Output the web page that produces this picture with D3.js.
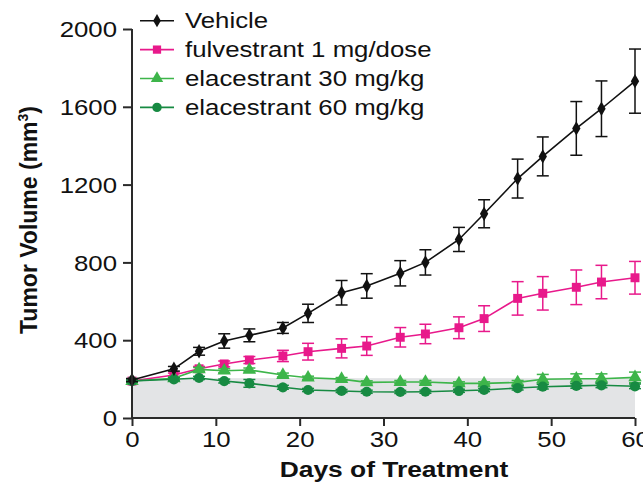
<!DOCTYPE html>
<html>
<head>
<meta charset="utf-8">
<script src="https://cdn.jsdelivr.net/npm/d3@7"></script>
<style>
  body { margin: 0; background: #fff; }
  svg { display: block; }
  text { font-family: "Liberation Sans", Arial, sans-serif; fill: #111; }
</style>
</head>
<body>
<svg id="chart" width="643" height="483"></svg>
<script>
// data
const days = [0, 5, 8, 11, 14, 18, 21, 25, 28, 32, 35, 39, 42, 46, 49, 53, 56, 60];

const vehicle    = [195, 253, 343, 396, 425, 463, 538, 644, 679, 744, 800, 918, 1050, 1231, 1345, 1489, 1590, 1732];
const vehicleErr = [8, 12, 20, 37, 33, 28, 47, 63, 63, 65, 65, 62, 72, 100, 100, 138, 143, 165];

const fulv    = [190, 221, 253, 278, 298, 319, 341, 358, 370, 415, 432, 464, 511, 615, 641, 672, 699, 721];
const fulvErr = [5, 10, 12, 15, 18, 29, 43, 49, 48, 50, 50, 56, 66, 86, 86, 89, 86, 84];

const elac30    = [190, 204, 250, 243, 247, 221, 207, 200, 183, 185, 185, 178, 178, 183, 199, 202, 202, 209];
const elac30Err = [5, 8, 10, 10, 10, 10, 8, 8, 8, 8, 8, 8, 8, 10, 25, 25, 25, 27];

const elac60    = [190, 199, 206, 190, 178, 158, 144, 139, 135, 134, 135, 140, 144, 154, 161, 165, 168, 163];
const elac60Err = [5, 8, 8, 10, 20, 10, 8, 8, 8, 8, 8, 8, 8, 10, 12, 12, 12, 12];

const seriesNames = ["Vehicle", "fulvestrant 1 mg/dose", "elacestrant 30 mg/kg", "elacestrant 60 mg/kg"];
const baseline = 205;   // shaded band top
const xTicks = [0, 10, 20, 30, 40, 50, 60];
const yTicks = [0, 400, 800, 1200, 1600, 2000];

const SX = 1.2;  // the source figure is stretched horizontally

const svg = d3.select("#chart");

const x = d3.scaleLinear().domain([0, 60]).range([132, 635]);
const y = d3.scaleLinear().domain([0, 2000]).range([418, 29]);

// series styling
const series = [
  { name: seriesNames[0], vals: vehicle, err: vehicleErr, color: "#111111", sym: d3.symbolDiamond, size: 60 },
  { name: seriesNames[1], vals: fulv,    err: fulvErr,    color: "#e8198b", sym: d3.symbolSquare,  size: 80 },
  { name: seriesNames[2], vals: elac30,  err: elac30Err,  color: "#3db54a", sym: d3.symbolTriangle, size: 78 },
  { name: seriesNames[3], vals: elac60,  err: elac60Err,  color: "#178a42", sym: d3.symbolCircle,  size: 82 }
];

// gray band
svg.append("rect")
  .attr("x", x(0))
  .attr("y", y(baseline))
  .attr("width", x(60) - x(0))
  .attr("height", y(0) - y(baseline))
  .attr("fill", "#e3e4e6");

// draw series, vehicle last so it sits on top
const drawOrder = [1, 2, 3, 0];
const line = d3.line().x(d => x(d[0])).y(d => y(d[1]));

drawOrder.forEach(i => {
  let s = series[i];
  let pts = days.map((d, j) => [d, s.vals[j], s.err[j]]);
  let g = svg.append("g");

  g.append("path")
    .datum(pts)
    .attr("d", line)
    .attr("fill", "none")
    .attr("stroke", s.color)
    .attr("stroke-width", 1.6);

  // error bars
  let eb = g.selectAll(".eb").data(pts).enter().append("g");
  eb.append("line")
    .attr("x1", d => x(d[0])).attr("x2", d => x(d[0]))
    .attr("y1", d => y(d[1] + d[2])).attr("y2", d => y(d[1] - d[2]))
    .attr("stroke", s.color).attr("stroke-width", 1.5);
  [1, -1].forEach(sign => {
    eb.append("line")
      .attr("x1", d => x(d[0]) - 6).attr("x2", d => x(d[0]) + 6)
      .attr("y1", d => y(d[1] + sign * d[2])).attr("y2", d => y(d[1] + sign * d[2]))
      .attr("stroke", s.color).attr("stroke-width", 1.5);
  });

  g.selectAll(".pt").data(pts).enter().append("path")
    .attr("d", d3.symbol().type(s.sym).size(s.size))
    .attr("transform", d => `translate(${x(d[0])},${y(d[1])})`)
    .attr("fill", s.color);
});

// axes
const axisColor = "#2a2a2a";

let xAxis = svg.append("g")
  .attr("transform", `translate(0,${y(0)})`)
  .call(d3.axisBottom(x).tickValues(xTicks).tickSize(8).tickFormat(d3.format("d")));

let yAxis = svg.append("g")
  .attr("transform", `translate(${x(0)},0)`)
  .call(d3.axisLeft(y).tickValues(yTicks).tickSize(9).tickFormat(d3.format("d")));

[xAxis, yAxis].forEach(a => {
  a.select(".domain").attr("stroke", axisColor).attr("stroke-width", 2);
  a.selectAll(".tick line").attr("stroke", axisColor).attr("stroke-width", 2);
  a.selectAll(".tick text")
    .attr("font-size", 21.5)
    .attr("fill", "#111")
    .style("font-family", "'Liberation Sans', Arial, sans-serif");
});

xAxis.select(".domain").attr("d", `M${x(0)},0H${x(60)}`);
yAxis.select(".domain").attr("d", `M0,${y(0)}V${y(2000)}`);

xAxis.selectAll(".tick text")
  .attr("y", 14)
  .attr("dy", "0.71em")
  .attr("transform", `scale(${SX},1)`);

yAxis.selectAll(".tick text")
  .attr("x", -15 / SX)
  .attr("dy", "0.36em")
  .attr("transform", `scale(${SX},1)`);

// axis titles
svg.append("text")
  .attr("transform", `translate(394,477) scale(${SX},1)`)
  .attr("text-anchor", "middle")
  .attr("font-size", 22)
  .attr("font-weight", "bold")
  .text("Days of Treatment");

let yt = svg.append("text")
  .attr("transform", `translate(37,220) rotate(-90)`)
  .attr("text-anchor", "middle")
  .attr("font-size", 23)
  .attr("font-weight", "bold");
yt.append("tspan").text("Tumor Volume (mm");
yt.append("tspan").attr("font-size", 14).attr("dy", -9).text("3");
yt.append("tspan").attr("dy", 9).text(")");

// legend
const legY0 = 20.7, legStep = 28.9;
series.forEach((s, i) => {
  let ly = legY0 + i * legStep;
  let g = svg.append("g");
  g.append("line")
    .attr("x1", 140).attr("x2", 174)
    .attr("y1", ly).attr("y2", ly)
    .attr("stroke", s.color).attr("stroke-width", 1.6);
  g.append("path")
    .attr("d", d3.symbol().type(s.sym).size(s.size * 0.85))
    .attr("transform", `translate(157,${ly})`)
    .attr("fill", s.color);
  g.append("text")
    .attr("transform", `translate(185,${ly}) scale(${SX},1)`)
    .attr("dy", "0.36em")
    .attr("font-size", 21.5)
    .text(s.name);
});
</script>
</body>
</html>
